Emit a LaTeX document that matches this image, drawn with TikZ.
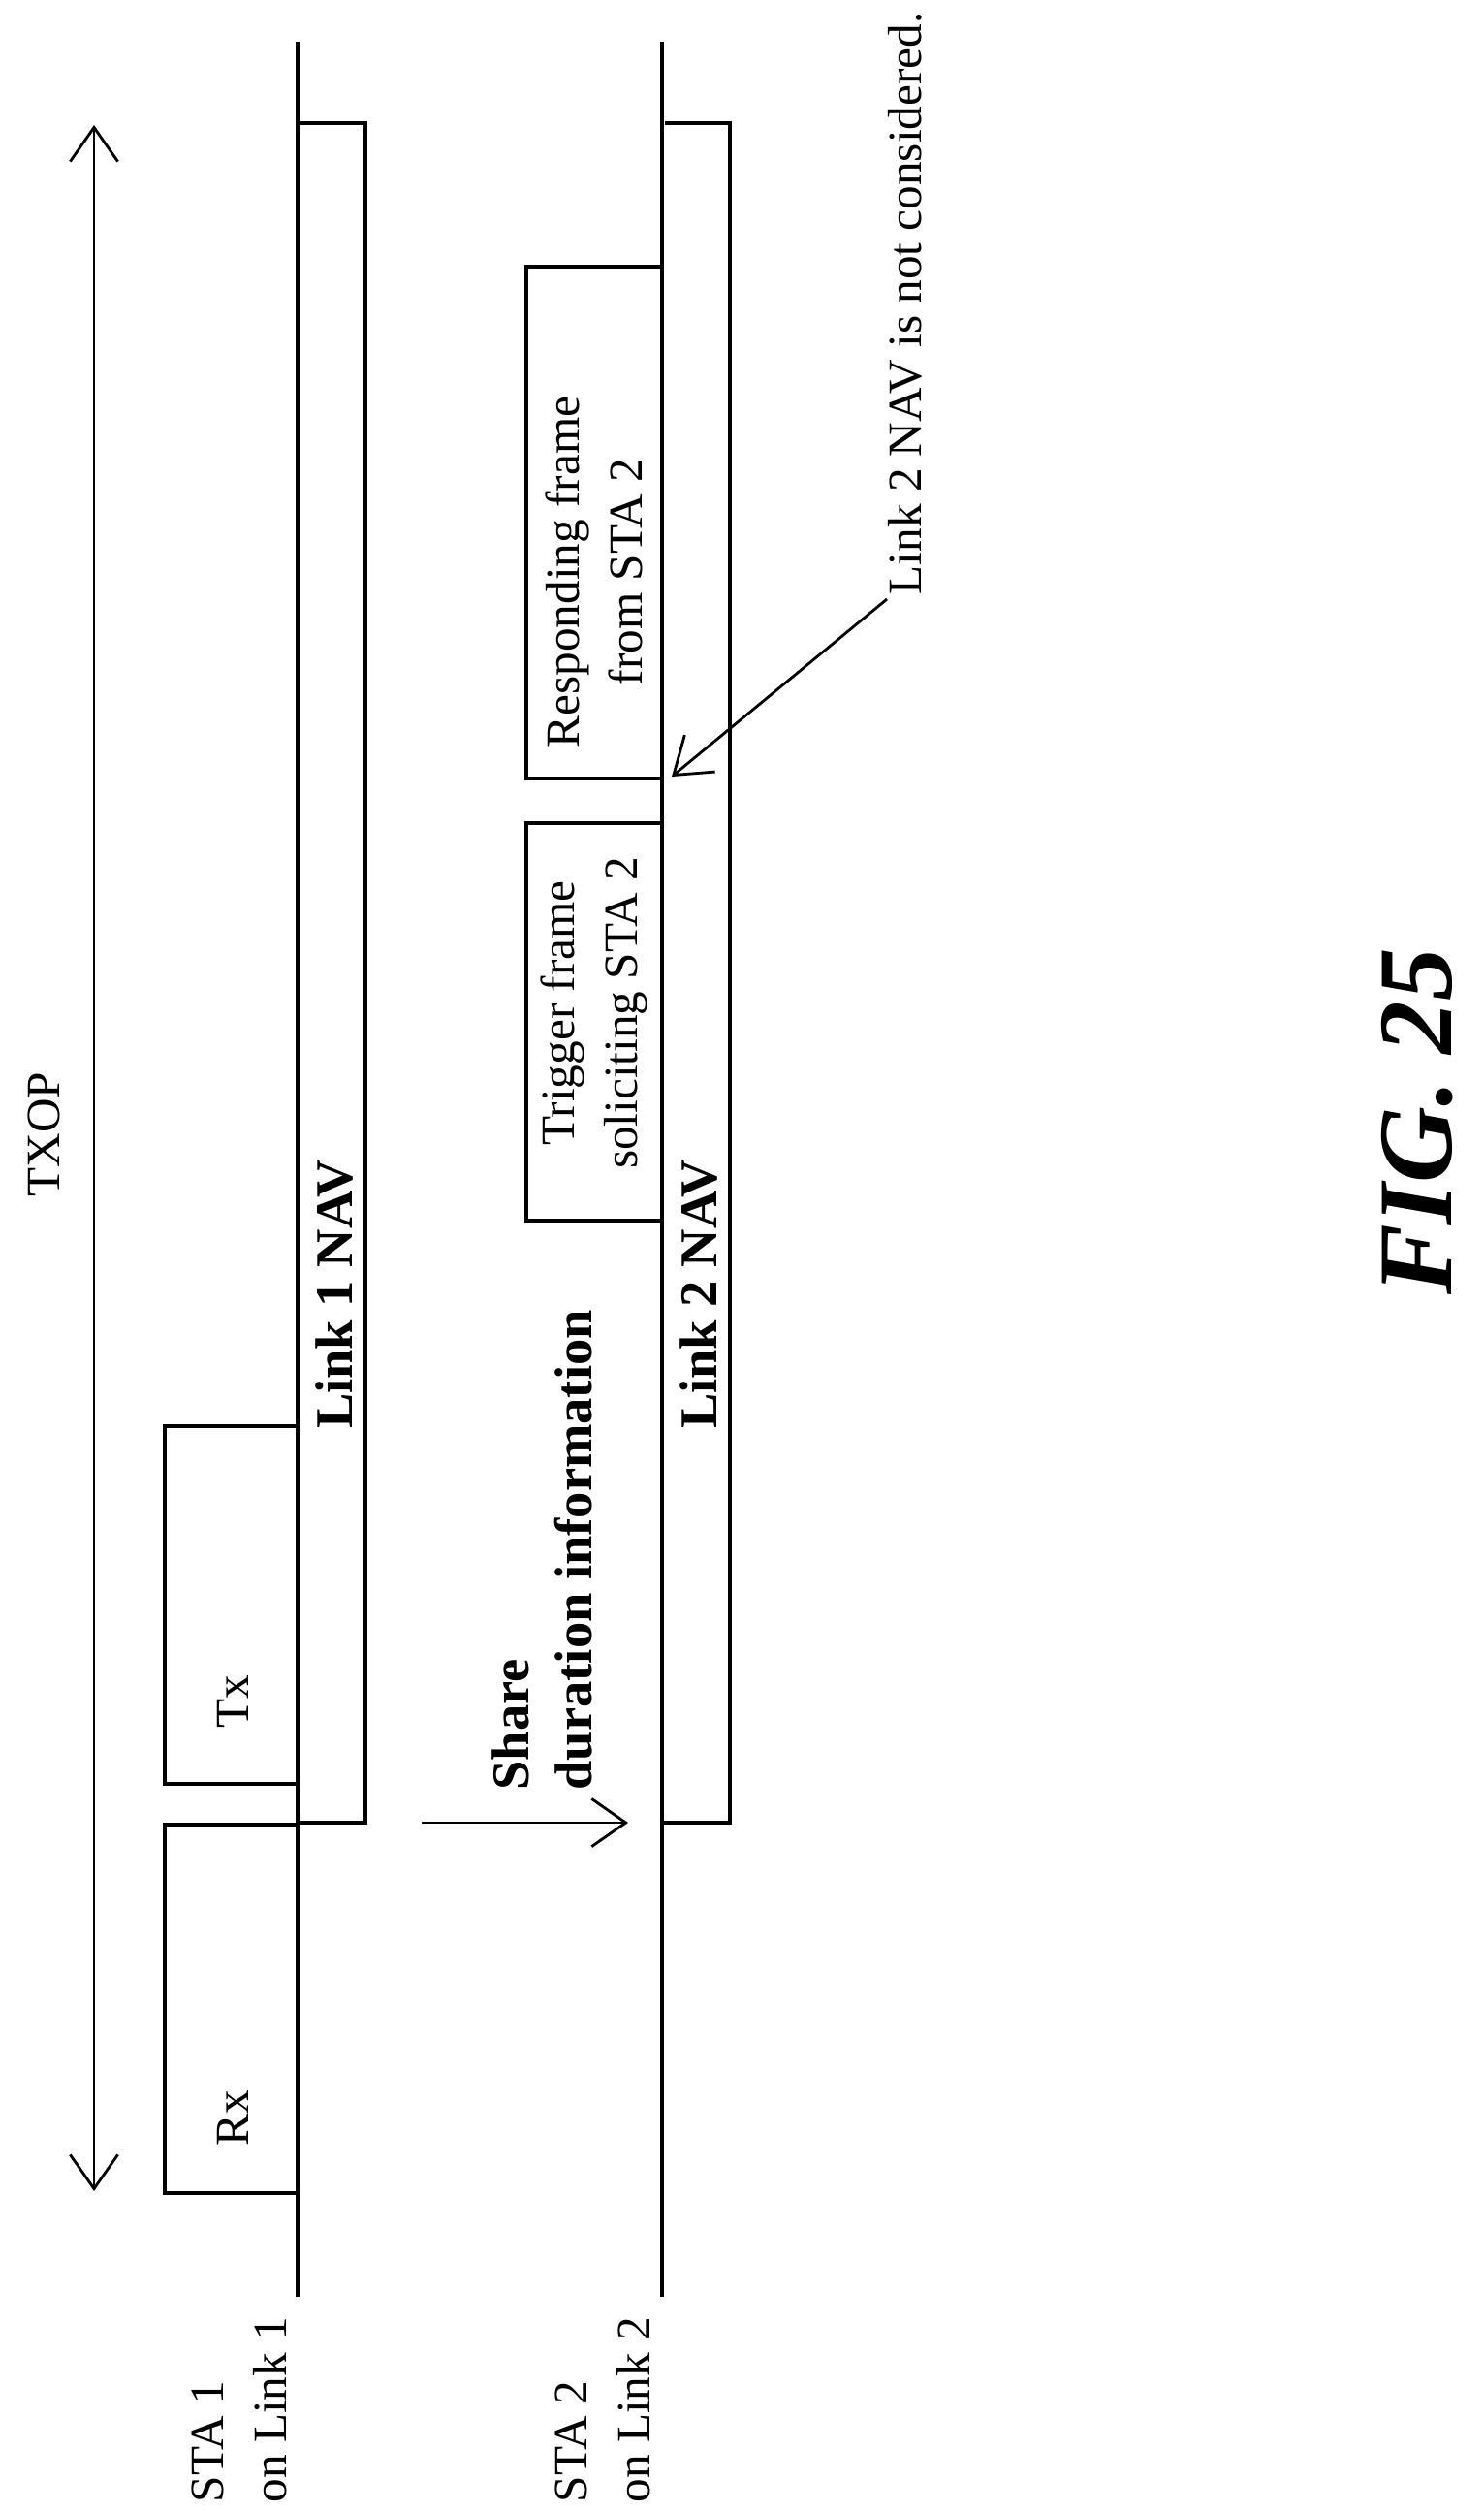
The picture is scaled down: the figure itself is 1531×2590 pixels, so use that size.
\documentclass[tikz,border=0pt]{standalone}
\usepackage{fontspec}
\setmainfont{Liberation Serif}
\usetikzlibrary{arrows.meta}

\begin{document}
\begin{tikzpicture}[x=0.01cm, y=-0.01cm]  % 1 unit = 1 px of the reference

    % Define some common styles
    \tikzset{
        txt/.style={rotate=90, font=\fontsize{14}{18.5}\selectfont, align=center, inner sep=0pt},
        boldtxt/.style={txt, font=\fontsize{15.5}{18.5}\selectfont\bfseries},
        frame/.style={line width=0.9pt},
        axis/.style={line width=1.1pt},
        openarrow/.style={line width=0.8pt, -{Straight Barb[length=10pt, width=14pt]}}
    }

    \useasboundingbox (0,0) rectangle (1531,2590);

    % TXOP span
    \coordinate (txopTop) at (97,129);
    \coordinate (txopBot) at (97,2260);
    \draw[line width=0.8pt, {Straight Barb[length=10pt, width=14pt]}-{Straight Barb[length=10pt, width=14pt]}] (txopTop) -- (txopBot);
    \node[txt] (txop) at (45,1170) {TXOP};

    % Link 1 time line
    \draw[axis] (307,43) -- (307,2369);
    \draw[frame] (310,127) -- (377,127) -- (377,1880) -- (307,1880);
    \node[boldtxt] (nav1) at (345,1335) {Link 1 NAV};
    \draw[frame] (307,1882) -- (170,1882) -- (170,2262) -- (307,2262);
    \node[txt] (rx) at (240,2185) {Rx};
    \draw[frame] (307,1471) -- (170,1471) -- (170,1840) -- (307,1840);
    \node[txt] (tx) at (240,1755) {Tx};

    % Link 2 time line
    \draw[axis] (683,43) -- (683,2369);
    \draw[frame] (686,127) -- (753,127) -- (753,1880) -- (683,1880);
    \node[boldtxt] (nav2) at (721,1335) {Link 2 NAV};
    \draw[frame] (683,849) -- (543,849) -- (543,1259) -- (683,1259);
    \node[txt] (trigger) at (613,1045) {Trigger frame\\soliciting STA 2};
    \draw[frame] (683,275) -- (543,275) -- (543,803) -- (683,803);
    \node[txt] (resp) at (613,590) {Responding frame\\from STA 2};

    % Sharing of duration information
    \coordinate (shareFrom) at (435,1880);
    \coordinate (shareTo) at (648,1880);
    \draw[openarrow] (shareFrom) -- (shareTo);
    \node[boldtxt, align=left, anchor=north west] (share) at (507,1847) {Share\\duration information};

    % Note on Link 2 NAV
    \node[txt, anchor=south west] (note) at (952,614) {Link 2 NAV is not considered.};
    \coordinate (noteTip) at (693,801);
    \draw[openarrow] (915,618) -- (noteTip);

    % Station labels
    \node[txt, align=left, anchor=north west] (sta1) at (197,2582) {STA 1\\on Link 1};
    \node[txt, align=left, anchor=north west] (sta2) at (572,2582) {STA 2\\on Link 2};

    % Figure caption
    \node[rotate=90, font=\fontsize{31}{36}\selectfont\bfseries\itshape, inner sep=0pt] (fig) at (1462,1157) {FIG. 25};

\end{tikzpicture}
\end{document}
